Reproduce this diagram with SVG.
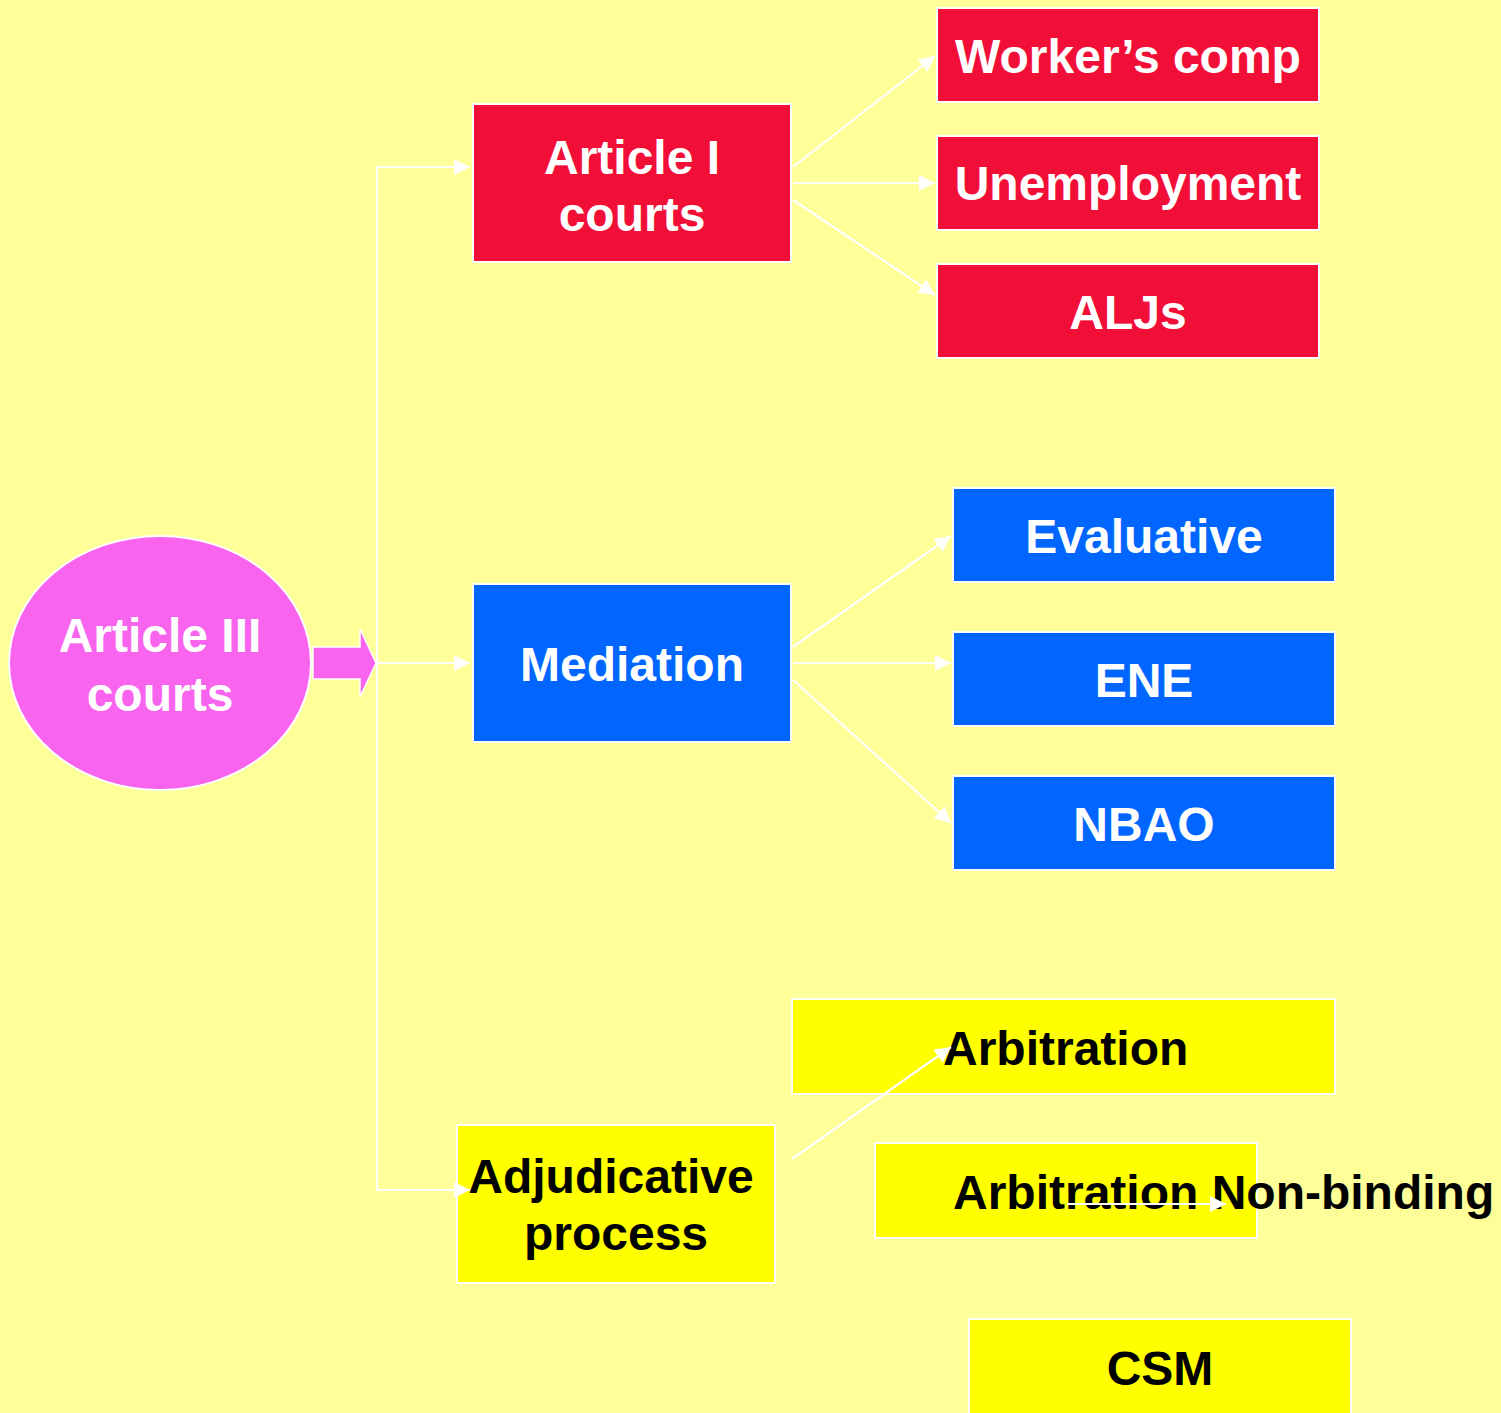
<svg xmlns="http://www.w3.org/2000/svg" width="1501" height="1413" viewBox="0 0 1501 1413">
<defs>
<style>
.bg{fill:#FFFF99}
.red{fill:#F20F37;stroke:#FFFFFF;stroke-width:2}
.blue{fill:#0066FF;stroke:#FFFFFF;stroke-width:2}
.yel{fill:#FFFF00;stroke:#FFFFFF;stroke-width:2}
.t{font-family:"Liberation Sans",Arial,sans-serif;font-weight:bold;font-size:48px}
.w{fill:#FFFFFF}
.k{fill:#000000}
.c{stroke:#FFFFFF;stroke-width:2.2;fill:none}
</style>
<marker id="ah" markerWidth="16" markerHeight="16" viewBox="0 0 16 16" refX="16" refY="8" orient="auto" markerUnits="userSpaceOnUse">
<path d="M0,0 L16,8 L0,16 Z" fill="#FFFFFF"/>
</marker>
</defs>
<rect class="bg" x="0" y="0" width="1501" height="1413"/>

<g id="article3">
<ellipse cx="160" cy="663" rx="151" ry="127" fill="#F864EE" stroke="#FFFFFF" stroke-width="2"/>
<text class="t w" x="160" y="652" text-anchor="middle">Article III</text>
<text class="t w" x="160" y="711" text-anchor="middle">courts</text>
</g>

<g id="blockarrow">
<path d="M313,647 H360 V629 L376,663 L360,697 V679 H313 Z" fill="#F864EE" stroke="#FFFFFF" stroke-width="1.5"/>
</g>

<g id="article1">
<rect class="red" x="473" y="104" width="318" height="158"/>
<text class="t w" x="632" y="174" text-anchor="middle">Article I</text>
<text class="t w" x="632" y="231" text-anchor="middle">courts</text>
</g>
<g id="workerscomp">
<rect class="red" x="937" y="8" width="382" height="94"/>
<text class="t w" x="1128" y="73" text-anchor="middle">Worker’s comp</text>
</g>
<g id="unemployment">
<rect class="red" x="937" y="136" width="382" height="94"/>
<text class="t w" x="1128" y="200" text-anchor="middle">Unemployment</text>
</g>
<g id="aljs">
<rect class="red" x="937" y="264" width="382" height="94"/>
<text class="t w" x="1128" y="329" text-anchor="middle">ALJs</text>
</g>

<g id="mediation">
<rect class="blue" x="473" y="584" width="318" height="158"/>
<text class="t w" x="632" y="681" text-anchor="middle">Mediation</text>
</g>
<g id="evaluative">
<rect class="blue" x="953" y="488" width="382" height="94"/>
<text class="t w" x="1144" y="553" text-anchor="middle">Evaluative</text>
</g>
<g id="ene">
<rect class="blue" x="953" y="632" width="382" height="94"/>
<text class="t w" x="1144" y="697" text-anchor="middle">ENE</text>
</g>
<g id="nbao">
<rect class="blue" x="953" y="776" width="382" height="94"/>
<text class="t w" x="1144" y="841" text-anchor="middle">NBAO</text>
</g>

<g id="arbitration">
<rect class="yel" x="792" y="999" width="543" height="95"/>
<text class="t k" x="943" y="1065">Arbitration</text>
</g>
<g id="adjudicative">
<rect class="yel" x="457" y="1125" width="318" height="158"/>
<text class="t k" x="611" y="1193" text-anchor="middle">Adjudicative</text>
<text class="t k" x="616" y="1250" text-anchor="middle">process</text>
</g>
<g id="nonbinding">
<rect class="yel" x="875" y="1143" width="382" height="95"/>
<text class="t k" x="953" y="1209">Arbitration Non-binding</text>
</g>
<g id="csm">
<rect class="yel" x="969" y="1319" width="382" height="100"/>
<text class="t k" x="1160" y="1385" text-anchor="middle">CSM</text>
</g>

<g id="connectors">
<path class="c" d="M377,663 V167 H470" marker-end="url(#ah)"/>
<path class="c" d="M377,663 H470" marker-end="url(#ah)"/>
<path class="c" d="M377,663 V1190 H470" marker-end="url(#ah)"/>
<line class="c" x1="793" y1="167" x2="935" y2="56" marker-end="url(#ah)"/>
<line class="c" x1="793" y1="183" x2="935" y2="183" marker-end="url(#ah)"/>
<line class="c" x1="793" y1="200" x2="935" y2="295" marker-end="url(#ah)"/>
<line class="c" x1="793" y1="647" x2="951" y2="536" marker-end="url(#ah)"/>
<line class="c" x1="793" y1="663" x2="951" y2="663" marker-end="url(#ah)"/>
<line class="c" x1="793" y1="680" x2="951" y2="823" marker-end="url(#ah)"/>
<line class="c" x1="792" y1="1159" x2="951" y2="1047" marker-end="url(#ah)"/>
<line class="c" x1="1067" y1="1204" x2="1226" y2="1204" marker-end="url(#ah)"/>
</g>
</svg>
